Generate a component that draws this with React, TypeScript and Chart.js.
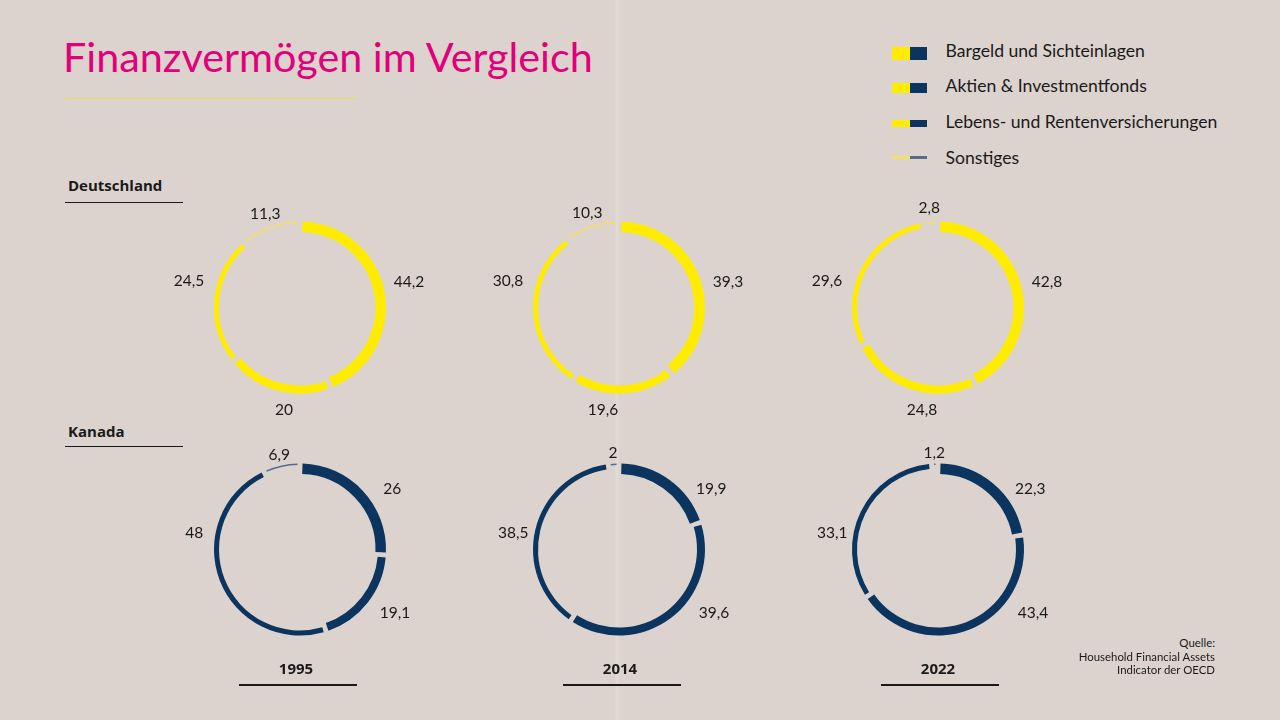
import React, { useEffect, useRef } from "react";
import { Chart, registerables } from "chart.js";

Chart.register(...registerables);

// ---------- data ----------
const CATEGORIES = [
  "Bargeld und Sichteinlagen",
  "Aktien & Investmentfonds",
  "Lebens- und Rentenversicherungen",
  "Sonstiges",
];
const YEARS = ["1995", "2014", "2022"];
const COUNTRIES = ["Deutschland", "Kanada"];

const DE_1995 = [44.2, 20, 24.5, 11.3];
const DE_2014 = [39.3, 19.6, 30.8, 10.3];
const DE_2022 = [42.8, 24.8, 29.6, 2.8];

const CA_1995 = [26, 19.1, 48, 6.9];
const CA_2014 = [19.9, 39.6, 38.5, 2];
const CA_2022 = [22.3, 43.4, 33.1, 1.2];

const SOURCE_LINES = ["Quelle:", "Household Financial Assets", "Indicator der OECD"];

// ---------- styles ----------
const BG = "#DCD3CE";
const YELLOW = "#FFEC00";
const NAVY = "#0B345F";
const DE_COLORS = [YELLOW, YELLOW, YELLOW, "rgba(244,228,80,0.85)"];
const CA_COLORS = [NAVY, NAVY, NAVY, "#566C8A"];
const THICKNESS = [10.5, 8, 5, 1.5];
const OUTER_R = 86;
const GAP_PX = 5;
const FONT = "Lato, 'Open Sans', sans-serif";
const BOLD_FONT = "'Open Sans', Lato, sans-serif";
const TEXT = "#1a1a1a";

// label slots (angle clockwise from 12 o'clock in degrees, distance from centre); null angle = arc middle
const DE_SLOTS = [
  { angle: 76.6, r: 112 },
  { angle: 188.8, r: 104 },
  { angle: 283.2, r: 114 },
  { angle: null, r: 100 },
];
const CA_SLOTS = [
  { angle: 56.9, r: 110 },
  { angle: 123.6, r: 114 },
  { angle: 278.6, r: 107 },
  { angle: null, r: 97 },
];

const COL_X = [300, 619, 938];
const ROW_Y = [307.5, 549.5];
const CANVAS_W = 300;
const CANVAS_H = 271;

const fmt = (v: number) => String(v).replace(".", ",");

type Slot = { angle: number | null; r: number };

function Donut({ values, colors, slots, cx, cy }: { values: number[]; colors: string[]; slots: Slot[]; cx: number; cy: number }) {
  const ref = useRef<HTMLCanvasElement | null>(null);
  useEffect(() => {
    if (!ref.current) return;
    const ringPlugin = {
      id: "ringShape",
      afterDatasetUpdate(chart: any, args: any) {
        const meta = chart.getDatasetMeta(args.index);
        meta.data.forEach((arc: any, i: number) => {
          const outer = arc.outerRadius;
          arc.innerRadius = Math.max(outer - THICKNESS[i], 0);
          const half = GAP_PX / 2 / outer;
          arc.startAngle = arc.startAngle + half;
          arc.endAngle = arc.endAngle - half;
          arc.circumference = arc.endAngle - arc.startAngle;
        });
      },
    };
    const labelPlugin = {
      id: "valueLabels",
      afterDraw(chart: any) {
        const meta = chart.getDatasetMeta(0);
        const ctx = chart.ctx;
        const data = chart.data.datasets[0].data as number[];
        ctx.save();
        ctx.font = `15.5px ${FONT}`;
        ctx.fillStyle = TEXT;
        ctx.textAlign = "center";
        ctx.textBaseline = "middle";
        meta.data.forEach((arc: any, i: number) => {
          const slot = slots[i];
          let theta: number;
          if (slot.angle == null) {
            theta = (arc.startAngle + arc.endAngle) / 2 + Math.PI / 2;
          } else {
            theta = (slot.angle * Math.PI) / 180;
          }
          const x = arc.x + slot.r * Math.sin(theta);
          const y = arc.y - slot.r * Math.cos(theta);
          ctx.fillText(fmt(data[i]), x, y);
        });
        ctx.restore();
      },
    };
    const chart = new Chart(ref.current, {
      type: "doughnut",
      data: {
        labels: CATEGORIES,
        datasets: [
          {
            data: values,
            backgroundColor: colors,
            borderWidth: 0,
          },
        ],
      },
      options: {
        animation: false,
        responsive: false,
        events: [],
        radius: OUTER_R,
        cutout: OUTER_R - 10,
        layout: { padding: 0 },
        plugins: { legend: { display: false }, tooltip: { enabled: false } },
      } as any,
      plugins: [ringPlugin, labelPlugin],
    });
    return () => chart.destroy();
  }, []);
  return (
    <canvas
      ref={ref}
      width={CANVAS_W}
      height={CANVAS_H}
      style={{ position: "absolute", left: cx - CANVAS_W / 2, top: cy - CANVAS_H / 2, width: CANVAS_W, height: CANVAS_H }}
    />
  );
}

function Txt({ x, baseline, size, weight = 400, align = "left", color = TEXT, family = FONT, asc = 0.887, children }: any) {
  const top = baseline - asc * size;
  const style: any = {
    position: "absolute",
    top,
    fontFamily: family,
    fontSize: size,
    fontWeight: weight,
    lineHeight: 1,
    color,
    whiteSpace: "nowrap",
  };
  if (align === "left") style.left = x;
  else if (align === "right") style.right = 1280 - x;
  else {
    style.left = x;
    style.transform = "translateX(-50%)";
  }
  return <div style={style}>{children}</div>;
}

function HLine({ x1, x2, y, color = "#1a1a1a", h = 1.2 }: any) {
  return <div style={{ position: "absolute", left: x1, top: y - h / 2, width: x2 - x1, height: h, background: color }} />;
}

export default function App() {
  const rows = [
    { values: [DE_1995, DE_2014, DE_2022], colors: DE_COLORS, slots: DE_SLOTS },
    { values: [CA_1995, CA_2014, CA_2022], colors: CA_COLORS, slots: CA_SLOTS },
  ];
  const legendRows = [
    { baseline: 58, h: 13, y: 53.3 },
    { baseline: 93, h: 10.5, y: 88 },
    { baseline: 129, h: 7, y: 123 },
    { baseline: 165, h: 2.5, y: 157.5 },
  ];
  // Open Sans baseline offset with line-height 1
  const OS_ASC = 0.87;
  return (
    <div
      style={{
        position: "absolute",
        left: 0,
        top: 0,
        width: 1280,
        height: 720,
        overflow: "hidden",
        background: `linear-gradient(90deg, rgba(255,255,255,0) 0px, rgba(255,255,255,0) 614px, rgba(255,255,255,0.18) 617px, rgba(255,255,255,0) 620px, rgba(255,255,255,0) 1280px), ${BG}`,
      }}
    >
      {/* title */}
      <Txt x={63} baseline={73} size={41.3} color="#E2007A">
        Finanzvermögen im Vergleich
      </Txt>
      <HLine x1={65} x2={357} y={98.5} color="rgba(236,222,70,0.9)" h={1.5} />

      {/* legend */}
      {CATEGORIES.map((c, i) => {
        const lr = legendRows[i];
        return (
          <React.Fragment key={c}>
            <div style={{ position: "absolute", left: 892, top: lr.y - lr.h / 2, width: 17.5, height: lr.h, background: DE_COLORS[i] }} />
            <div style={{ position: "absolute", left: 909.5, top: lr.y - lr.h / 2, width: 17.5, height: lr.h, background: CA_COLORS[i] }} />
            <Txt x={945.5} baseline={lr.baseline} size={17.6}>
              {c}
            </Txt>
          </React.Fragment>
        );
      })}

      {/* country headers */}
      <Txt x={68} baseline={191.5} size={15} weight={700} family={BOLD_FONT} asc={OS_ASC}>
        {COUNTRIES[0]}
      </Txt>
      <HLine x1={65} x2={183} y={202.5} />
      <Txt x={68} baseline={437.5} size={15} weight={700} family={BOLD_FONT} asc={OS_ASC}>
        {COUNTRIES[1]}
      </Txt>
      <HLine x1={65} x2={183} y={446.5} />

      {/* donuts */}
      {rows.map((row, ri) =>
        row.values.map((vals, ci) => (
          <Donut key={`${ri}-${ci}`} values={vals} colors={row.colors} slots={row.slots} cx={COL_X[ci]} cy={ROW_Y[ri]} />
        ))
      )}

      {/* years */}
      {YEARS.map((y, i) => {
        const cx = [296, 620, 938][i];
        return (
          <React.Fragment key={y}>
            <Txt x={cx} baseline={674} size={15} weight={700} align="center" family={BOLD_FONT} asc={OS_ASC}>
              {y}
            </Txt>
            <HLine x1={cx - 57} x2={cx + 61} y={685} />
          </React.Fragment>
        );
      })}

      {/* source */}
      {SOURCE_LINES.map((s, i) => (
        <Txt key={s} x={1215} baseline={647.5 + i * 13.3} size={11.4} align="right">
          {s}
        </Txt>
      ))}
    </div>
  );
}
